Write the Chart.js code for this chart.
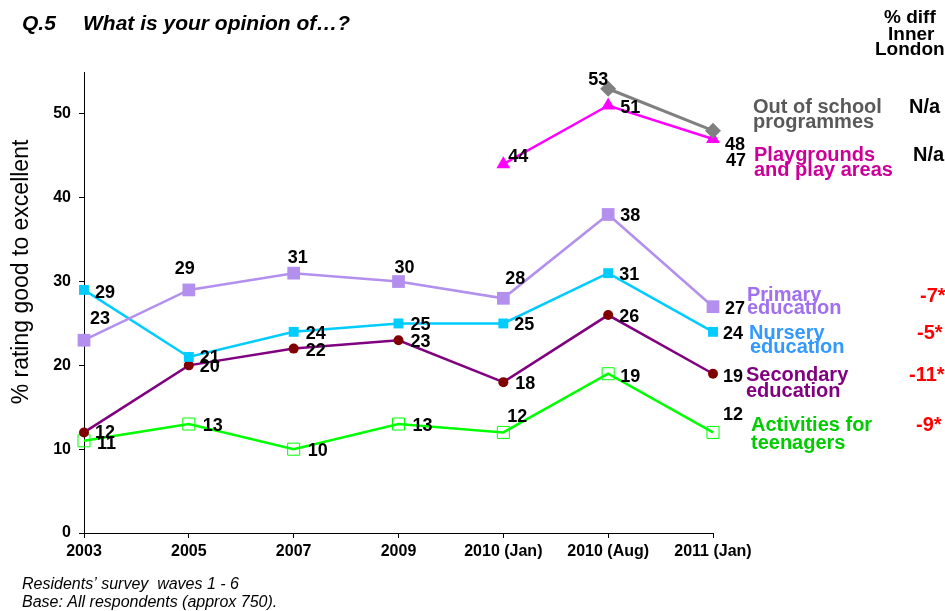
<!DOCTYPE html>
<html>
<head>
<meta charset="utf-8">
<script src="https://cdn.jsdelivr.net/npm/chart.js@4/dist/chart.umd.min.js"></script>
<style>
html,body{margin:0;padding:0;background:#fff;}
#wrap{width:945px;height:611px;position:relative;}
</style>
</head>
<body>
<div id="wrap"><canvas id="c" width="945" height="611"></canvas></div>
<script>
// ---- data ----
const categories = ['2003', '2005', '2007', '2009', '2010 (Jan)', '2010 (Aug)', '2011 (Jan)'];
const primaryEducation = [23, 29, 31, 30, 28, 38, 27];
const nurseryEducation = [29, 21, 24, 25, 25, 31, 24];
const secondaryEducation = [12, 20, 22, 23, 18, 26, 19];
const activitiesForTeenagers = [11, 13, 10, 13, 12, 19, 12];
const playgroundsAndPlayAreas = [null, null, null, null, 44, 51, 47];
const outOfSchoolProgrammes = [null, null, null, null, null, 53, 48];
const yTickValues = [0, 10, 20, 30, 40, 50];
const seriesNames = ['Out of school programmes', 'Playgrounds and play areas', 'Primary education', 'Nursery education', 'Secondary education', 'Activities for teenagers'];
const diffInnerLondon = ['N/a', 'N/a', '-7*', '-5*', '-11*', '-9*'];

// ---- styles / label placement (not data) ----
const FONT = '"Liberation Sans", Arial, sans-serif';
const labelOffsets = {
  out: [null, null, null, null, null, [-20, -9], [12, 14]],
  play: [null, null, null, null, [5, -7], [12, 3], [13, 22]],
  primary: [[6, -21], [-14, -21], [-6, -15], [-4, -14], [2, -19], [12, 2], [12, 2]],
  nursery: [[11, 3], [11, 1], [12, 2], [12, 2], [11, 2], [11, 2], [10, 2]],
  secondary: [[11, 1], [11, 2], [12, 2], [12, 2], [12, 2], [11, 2], [10, 3]],
  activities: [[13, 3], [14, 2], [14, 2], [14, 2], [4, -15], [12, 3], [10, -17]]
};
const legendItems = [
  {lines: ['Out of school', 'programmes'], color: '#595959', x: 753, y: [107, 122]},
  {lines: ['Playgrounds', 'and play areas'], color: '#CC0099', x: 754, y: [155, 170]},
  {lines: ['Primary', 'education'], color: '#A070F0', x: 747, y: [295, 308]},
  {lines: ['Nursery', 'education'], color: '#3399FF', x: 749, y: [333, 347]},
  {lines: ['Secondary', 'education'], color: '#800080', x: 746, y: [375, 391]},
  {lines: ['Activities for', 'teenagers'], color: '#00CC00', x: 751, y: [425, 443]}
];
const diffPos = [[909, 107], [913, 155], [920, 296], [917, 333], [909, 375], [916, 425]];

const datasets = [
  {key: 'out', label: seriesNames[0], data: outOfSchoolProgrammes, borderColor: '#808080', backgroundColor: '#808080',
   pointStyle: 'rectRot', pointRadius: 8, borderWidth: 3, pointBorderWidth: 0},
  {key: 'play', label: seriesNames[1], data: playgroundsAndPlayAreas, borderColor: '#FF00FF', backgroundColor: '#FF00FF',
   pointStyle: 'triangle', pointRadius: 8, borderWidth: 2.5, pointBorderWidth: 0},
  {key: 'primary', label: seriesNames[2], data: primaryEducation, borderColor: '#B38FEE', backgroundColor: '#B38FEE',
   pointStyle: 'rect', pointRadius: 9, borderWidth: 2.5, pointBorderWidth: 0},
  {key: 'nursery', label: seriesNames[3], data: nurseryEducation, borderColor: '#00CCFF', backgroundColor: '#00CCFF',
   pointStyle: 'rect', pointRadius: 7, borderWidth: 2.5, pointBorderWidth: 0},
  {key: 'secondary', label: seriesNames[4], data: secondaryEducation, borderColor: '#800080', backgroundColor: '#800000',
   pointStyle: 'circle', pointRadius: 5, borderWidth: 2.5, pointBorderWidth: 0},
  {key: 'activities', label: seriesNames[5], data: activitiesForTeenagers, borderColor: '#00FF00', backgroundColor: 'rgba(255,255,255,0)',
   pointStyle: 'rect', pointRadius: 8.5, borderWidth: 2.5, pointBorderWidth: 1, pointBorderColor: '#00FF00'}
].map(d => Object.assign({tension: 0, fill: false, pointHoverRadius: d.pointRadius,
  pointBackgroundColor: d.backgroundColor, pointBorderColor: d.pointBorderColor || d.borderColor}, d));

const textPlugin = {
  id: 'texts',
  afterDatasetsDraw(chart) {
    const ctx = chart.ctx;
    ctx.save();
    ctx.fillStyle = '#000';
    ctx.font = 'bold 18px ' + FONT;
    ctx.textAlign = 'left';
    ctx.textBaseline = 'middle';
    chart.data.datasets.forEach((ds, di) => {
      const meta = chart.getDatasetMeta(di);
      const offs = labelOffsets[ds.key];
      ds.data.forEach((v, i) => {
        if (v === null || !offs[i]) return;
        const pt = meta.data[i];
        ctx.fillText(String(v), pt.x + offs[i][0], pt.y + offs[i][1]);
      });
    });
    ctx.restore();
  },
  afterDraw(chart) {
    const ctx = chart.ctx;
    ctx.save();
    ctx.textAlign = 'left';
    ctx.textBaseline = 'middle';
    // title
    ctx.fillStyle = '#000';
    ctx.font = 'italic bold 21px ' + FONT;
    ctx.fillText('Q.5', 22, 24);
    ctx.fillText('What is your opinion of\u2026?', 83, 24);
    // header
    ctx.font = 'bold 19px ' + FONT;
    ctx.fillText('% diff', 884, 18);
    ctx.fillText('Inner', 888, 35);
    ctx.fillText('London', 875, 50);
    // legend labels
    ctx.font = 'bold 20px ' + FONT;
    legendItems.forEach(it => {
      ctx.fillStyle = it.color;
      it.lines.forEach((ln, k) => ctx.fillText(ln, it.x + (k === 1 && it.lines[0] === 'Nursery' ? 1 : 0), it.y[k]));
    });
    // diff values
    diffInnerLondon.forEach((t, i) => {
      ctx.fillStyle = t === 'N/a' ? '#000' : '#FF0000';
      ctx.fillText(t, diffPos[i][0], diffPos[i][1]);
    });
    // footnotes
    ctx.fillStyle = '#000';
    ctx.font = 'italic 16px ' + FONT;
    ctx.fillText('Residents\u2019 survey  waves 1 - 6', 22, 585);
    ctx.fillText('Base: All respondents (approx 750).', 22, 603);
    // y axis title
    ctx.font = '23px ' + FONT;
    ctx.translate(22, 272);
    ctx.rotate(-Math.PI / 2);
    ctx.textAlign = 'center';
    ctx.fillText('% rating good to excellent', 0, 0);
    ctx.restore();
  }
};

new Chart(document.getElementById('c'), {
  type: 'line',
  data: {labels: categories, datasets: datasets},
  options: {
    responsive: false,
    devicePixelRatio: 1,
    animation: false,
    layout: {padding: {top: 72, right: 232, left: 0, bottom: 0}},
    plugins: {legend: {display: false}, tooltip: {enabled: false}, title: {display: false}},
    scales: {
      x: {
        type: 'category',
        offset: false,
        grid: {display: true, drawOnChartArea: false, drawTicks: true, tickLength: 5, color: '#000'},
        border: {display: true, color: '#000', width: 1},
        ticks: {color: '#000', font: {family: FONT, size: 16, weight: 'bold'}, padding: 4, autoSkip: false, maxRotation: 0},
        afterFit(s) { s.height = 78; }
      },
      y: {
        min: 0, max: 55,
        grid: {display: true, drawOnChartArea: false, drawTicks: true, tickLength: 5, color: '#000'},
        border: {display: true, color: '#000', width: 1},
        afterBuildTicks(s) { s.ticks = yTickValues.map(v => ({value: v})); },
        ticks: {color: '#000', font: {family: FONT, size: 16, weight: 'bold'}, padding: 8},
        afterFit(s) { s.width = 84; }
      }
    }
  },
  plugins: [textPlugin]
});
</script>
</body>
</html>
